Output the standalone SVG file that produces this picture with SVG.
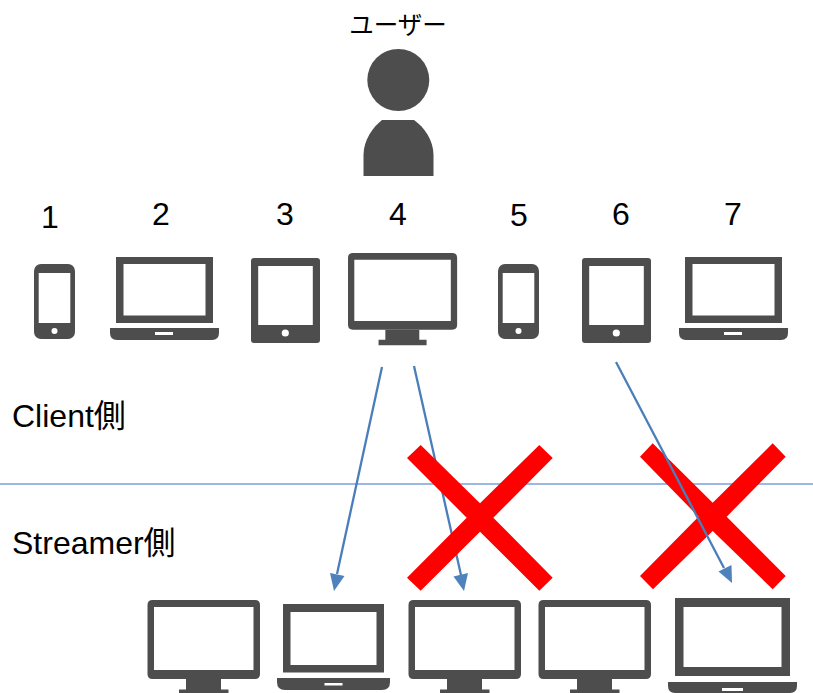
<svg xmlns="http://www.w3.org/2000/svg" width="813" height="693" viewBox="0 0 813 693">
<style>
.i{fill:#4d4d4d}
.s{fill:#fff}
.t{font-family:"Liberation Sans","Noto Sans CJK JP",sans-serif;font-size:32px;fill:#000}
.n{text-anchor:middle}
.c{fill:none;stroke:#4a7ebb;stroke-width:2.300}
.h{fill:#4f81bd}
.x{fill:#f00}
</style>
<defs>
<g id="phone"><rect class="i" width="41" height="75" rx="7"/><rect class="s" x="4.700" y="9" width="31.600" height="50"/><circle class="s" cx="20.500" cy="67" r="3"/></g>
<g id="tablet"><rect class="i" width="69" height="85" rx="3"/><rect class="s" x="7.200" y="8" width="54.600" height="59"/><circle class="s" cx="34.300" cy="75" r="3.600"/></g>
<g id="laptop"><path class="i" d="M6 0H103V66H6ZM13.500 7V58.500H95.500V7Z" fill-rule="evenodd"/><path class="i" d="M0 71H109V76Q109 83 102 83H7Q0 83 0 76Z"/><rect class="s" x="45" y="75" width="18" height="3"/></g>
<g id="monitor"><path class="i" fill-rule="evenodd" d="M5 0H107.500Q112.500 0 112.500 5V74Q112.500 79 107.500 79H5Q0 79 0 74V5Q0 0 5 0ZM6.500 7V70H106V7Z"/><path class="i" d="M38.500 79H73.500V89.500H81V95H31.500V89.500H38.500Z"/></g>
</defs>
<g id="divider"><rect x="0" y="483.300" width="813" height="1.400" fill="#6f9bd4"/></g>
<g id="user"><text class="t n" x="398" y="34" style="font-size:24.500px">ユーザー</text><circle class="i" cx="398.300" cy="80" r="31"/><path class="i" d="M363.500 176V155C363.500 140 373 127 382 120H414C424 127 433.500 140 433.500 155V176Z"/></g>
<g id="d1"><text class="t n" x="50" y="228">1</text><use href="#phone" x="34" y="264"/></g>
<g id="d2"><text class="t n" x="161" y="225">2</text><use href="#laptop" x="110" y="257"/></g>
<g id="d3"><text class="t n" x="285" y="225">3</text><use href="#tablet" x="251" y="258"/></g>
<g id="d4"><text class="t n" x="398" y="225">4</text><g transform="translate(348 253) scale(.97 .97)"><use href="#monitor"/></g></g>
<g id="d5"><text class="t n" x="519" y="226">5</text><use href="#phone" x="498" y="264"/></g>
<g id="d6"><text class="t n" x="621" y="225">6</text><use href="#tablet" x="582" y="258"/></g>
<g id="d7"><text class="t n" x="733" y="225">7</text><use href="#laptop" x="679" y="257"/></g>
<g id="client"><text class="t" x="12" y="427">Client側</text></g>
<g id="streamer"><text class="t" x="12" y="554">Streamer側</text></g>
<g id="s1"><use href="#monitor" x="147.500" y="600"/></g>
<g id="s2"><path class="i" fill-rule="evenodd" d="M283 604H384V672.500H283ZM290.500 612V665H376.500V612Z"/><path class="i" d="M277 678H390V682Q390 690 382 690H285Q277 690 277 682Z"/><rect class="s" x="324.500" y="683" width="18" height="2.500"/></g>
<g id="s3"><use href="#monitor" x="408.500" y="600"/></g>
<g id="s4"><use href="#monitor" x="538.500" y="600"/></g>
<g id="s5"><path class="i" fill-rule="evenodd" d="M675 598H790V676H675ZM683.500 607V667H781.500V607Z"/><path class="i" d="M668 682H797V686Q797 693 790 693H675Q668 693 668 686Z"/><rect class="s" x="722" y="688" width="21" height="3"/></g>
<g id="cross2"><path class="x" d="M652.700 443.300L712.700 502.700L772.700 443.300L785.700 456.700L726.700 516.700L785.700 576L772.700 589.300L712.700 531L653 589.300L640 576L698.500 516.700L640 456.700Z"/></g>
<g id="connectors">
<path class="c" d="M382 367L337 574"/><path class="h" d="M334 591L330 573L344.500 576Z"/>
<path class="c" d="M414 366L461 575"/><path class="h" d="M464 591L453.500 576.500L468 573Z"/>
<path class="c" d="M616 362L724 568"/><path class="h" d="M732 583L718.500 571.500L731.500 565Z"/>
</g>
<g id="cross1"><path class="x" d="M420.700 445L480 503.300L539.300 445L552.700 458L493.300 517.700L552.700 577.700L539.300 590.700L480 531.700L420.700 590.700L407 577.700L466.700 517.700L407 458Z"/></g>
</svg>
